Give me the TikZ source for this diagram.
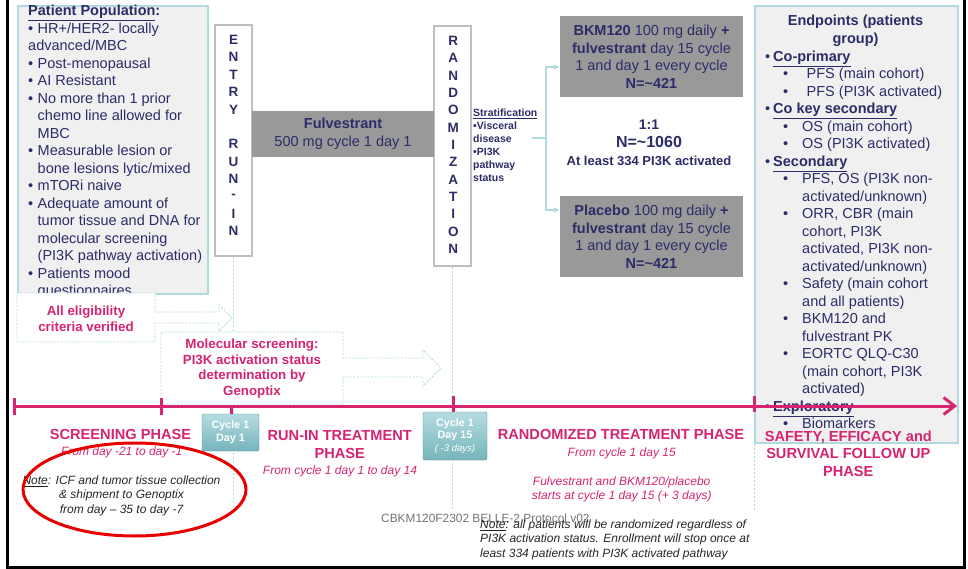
\documentclass[tikz,border=0pt]{standalone}
\usepackage{fontspec}
\setmainfont{Liberation Sans}
\usetikzlibrary{arrows.meta}

\definecolor{navy}{RGB}{44,44,104}
\definecolor{phase}{RGB}{214,36,112}
\definecolor{paleteal}{RGB}{176,218,222}
\definecolor{panelgray}{RGB}{240,240,240}
\definecolor{armgray}{RGB}{153,153,153}
\definecolor{btntop}{RGB}{180,220,224}
\definecolor{btnbot}{RGB}{118,180,188}
\definecolor{ringred}{RGB}{232,0,0}

\newcommand\pbul{\makebox[9.5pt][l]{\textbullet}}
\newcommand\pind{\hspace*{9.5pt}}
\newcommand\ebul{\makebox[8pt][l]{\textbullet}}
\newcommand\esub[1][19pt]{\hspace*{18pt}\makebox[#1][l]{\textbullet}}
\newcommand\eind{\hspace*{37pt}}

\tikzset{
  panel/.style={draw=paleteal, line width=2pt, fill=panelgray},
  upright/.style={draw=black!25, line width=1.2pt, fill=white, minimum width=37pt},
  letter/.style={inner sep=0pt, text=navy, font=\fontsize{13.5}{16}\selectfont\bfseries},
  arm/.style={fill=armgray, text=navy, align=center, font=\fontsize{14.5}{17.5}\selectfont},
  listtext/.style={anchor=north west, inner sep=0pt, align=left, text=navy, font=\fontsize{14.5}{17.5}\selectfont},
  link/.style={draw=paleteal, line width=1.8pt},
  guide/.style={draw=paleteal, line width=0.8pt, dash pattern=on 2pt off 2pt},
  calloutbox/.style={draw=paleteal, line width=0.8pt, dash pattern=on 2pt off 1.5pt, fill=white},
  callouttext/.style={inner sep=0pt, align=center, text=phase, font=\fontsize{13.3}{15.8}\selectfont\bfseries},
  timeline/.style={draw=phase, line width=3pt},
  cyclebtn/.style={rounded corners=1.5pt, draw=btnbot!80!black, line width=0.4pt, top color=btntop, bottom color=btnbot, text=white, align=center, inner sep=0pt, font=\fontsize{10.8}{12.7}\selectfont\bfseries},
  phasetitle/.style={anchor=north, inner sep=0pt, align=center, text=phase, font=\fontsize{14.6}{17.5}\selectfont\bfseries},
  phasenote/.style={anchor=north, inner sep=0pt, align=center, text=phase, font=\fontsize{12}{14}\selectfont\itshape},
  remark/.style={inner sep=0pt, text=black!85, font=\fontsize{12}{14.4}\selectfont\itshape},
}

\begin{document}
\begin{tikzpicture}[x=1pt, y=-1pt]
    \useasboundingbox (0,0) rectangle (968,569);

    % Frame
    \draw[line width=3pt] (7,0) -- (7,567) -- (964,567) -- (964,0);

    % Patient population
    \node[panel, anchor=north west, minimum width=190pt, minimum height=288pt] (pop) at (17,5) {};
    \begin{scope}
      \clip (pop.north west) rectangle ([yshift=1pt]pop.south east);
      \node[listtext] (popText) at (28,5) {\underline{\textbf{Patient Population}}\textbf{:}\\
        \pbul HR+/HER2- locally\\
        advanced/MBC\\
        \pbul Post-menopausal\\
        \pbul AI Resistant\\
        \pbul No more than 1 prior\\
        \pind chemo line allowed for\\
        \pind MBC\\
        \pbul Measurable lesion or\\
        \pind bone lesions lytic/mixed\\
        \pbul mTORi naive\\
        \pbul Adequate amount of\\
        \pind tumor tissue and DNA for\\
        \pind molecular screening\\
        \pind (PI3K pathway activation)\\
        \pbul Patients mood\\
        \pind questionnaires};
    \end{scope}

    % Entry and randomization
    \node[upright, minimum height=231pt] (entry) at (233.5,140.5) {};
    \node[upright, minimum height=240pt] (rand) at (452.5,146) {};
    \foreach \l [count=\i] in {E,N,T,R,Y,{},R,U,N,-,I,N}
      \node[letter] (entry\i) at (233.5, 22.6+17.36*\i) {\l};
    \foreach \l [count=\i] in {R,A,N,D,O,M,I,Z,A,T,I,O,N}
      \node[letter] (rand\i) at (453.3, 23.67+17.33*\i) {\l};

    % Guides
    \draw[guide] (entry.south) -- ++(0,249);
    \draw[guide] (rand.south) -- ++(0,244);

    % Treatment arms
    \node[arm, minimum width=182pt, minimum height=46pt] (fulv) at (343,134) {\textbf{Fulvestrant}\\500 mg cycle 1 day 1};
    \node[arm, minimum width=183pt, minimum height=81pt] (bkm) at (651.5,56.5) {\textbf{BKM120} 100 mg daily \textbf{+}\\\textbf{fulvestrant} day 15 cycle\\1 and day 1 every cycle\\\textbf{N=\textasciitilde421}};
    \node[arm, minimum width=183pt, minimum height=81pt] (plac) at (651.5,236.5) {\textbf{Placebo} 100 mg daily \textbf{+}\\\textbf{fulvestrant} day 15 cycle\\1 and day 1 every cycle\\\textbf{N=\textasciitilde421}};
    \node[anchor=north, inner sep=0pt, align=center, text=navy, font=\fontsize{14}{18}\selectfont\bfseries] (ratio) at (649,119.8)
      {1:1\\{\fontsize{16}{18}\selectfont N=\textasciitilde1060}\\{\fontsize{13}{18}\selectfont At least 334 PI3K activated}};

    % Stratification
    \node[anchor=north west, inner sep=0pt, align=left, text=navy, font=\fontsize{10.5}{12.9}\selectfont\bfseries] (strat) at (473,108.8)
      {\underline{Stratification}\\\textbullet Visceral\\disease\\\textbullet PI3K\\pathway\\status};
    \coordinate (stem) at (532,138);
    \coordinate (split) at (546,138);
    \draw[link] (stem) -- (split);
    \draw[link, -{Latex[length=6pt,width=6pt]}] (split) |- ([yshift=-10.5pt]bkm.west);
    \draw[link, -{Latex[length=6pt,width=6pt]}] (split) |- ([yshift=26.5pt]plac.west);

    % Endpoints
    \node[panel, anchor=north west, minimum width=203pt, minimum height=437pt] (endp) at (754,5) {};
    \draw[guide] (endp.south west) -- ++(0,68);
    \node[anchor=north, inner sep=0pt, align=center, text=navy, font=\fontsize{14.5}{18}\selectfont\bfseries] (endpTitle) at (855.5,14.6) {Endpoints (patients\\group)};
    \node[listtext] (endpList) at (765,50.6) {\ebul\underline{\textbf{Co-primary}}\\
      \esub[23.5pt]PFS (main cohort)\\
      \esub[23.5pt]PFS (PI3K activated)\\
      \ebul\underline{\textbf{Co key secondary}}\\
      \esub OS (main cohort)\\
      \esub OS (PI3K activated)\\
      \ebul\underline{\textbf{Secondary}}\\
      \esub PFS, OS (PI3K non-\\
      \eind activated/unknown)\\
      \esub ORR, CBR (main\\
      \eind cohort, PI3K\\
      \eind activated, PI3K non-\\
      \eind activated/unknown)\\
      \esub Safety (main cohort\\
      \eind and all patients)\\
      \esub BKM120 and\\
      \eind fulvestrant PK\\
      \esub EORTC QLQ-C30\\
      \eind (main cohort, PI3K\\
      \eind activated)\\
      \ebul\underline{\textbf{Exploratory}}\\
      \esub Biomarkers};

    % Screening callouts
    \draw[calloutbox] (17,293) -- (155,293) -- (155,312) -- (219,312) -- (219,305) -- (232,318)
      -- (219,331) -- (219,323) -- (155,323) -- (155,342) -- (17,342) -- cycle;
    \draw[calloutbox] (161,332) -- (343,332) -- (343,358) -- (423,358) -- (423,350) -- (441,368)
      -- (423,386) -- (423,377) -- (343,377) -- (343,404) -- (161,404) -- cycle;
    \node[callouttext] (elig) at (86,318.5) {All eligibility\\criteria verified};
    \node[callouttext] (molec) at (252,368.5) {Molecular screening:\\PI3K activation status\\determination by\\Genoptix};

    % Timeline
    \draw[timeline, -{Straight Barb[length=11pt,width=17pt]}] (14,406) -- (957,406);
    \foreach \x in {14,161}
      \draw[timeline] (\x,398) -- (\x,415);
    \foreach \x in {453,754}
      \draw[timeline] (\x,396) -- (\x,412);
    \draw[timeline] (231,406) -- (231,415);

    \node[cyclebtn, minimum width=57pt, minimum height=37pt] (cyc1) at (230.5,432.5) {Cycle 1\\Day 1};
    \node[cyclebtn, minimum width=64pt, minimum height=48pt] (cyc15) at (455,436)
      {Cycle 1\\Day 15\\{\mdseries\itshape\fontsize{9.5}{12}\selectfont ( -3 days)}};

    % Phases
    \node[phasetitle] (scrTitle) at (120.5,429) {SCREENING PHASE};
    \node[phasenote] (scrDays) at (121.7,446.3) {From day -21 to day -1};
    \node[phasetitle] (runinTitle) at (339.7,430.3) {RUN-IN TREATMENT\\PHASE};
    \node[phasenote] (runinDays) at (340,465.6) {From cycle 1 day 1 to day 14};
    \node[phasetitle] (randTitle) at (621,429.6) {RANDOMIZED TREATMENT PHASE};
    \node[phasenote] (randDays) at (621.7,447.6) {From cycle 1 day 15};
    \node[phasenote] (randStart) at (621.7,476.6) {Fulvestrant and BKM120/placebo\\starts at cycle 1 day 15 (+ 3 days)};
    \node[phasetitle] (safeTitle) at (848.3,430.3) {SAFETY, EFFICACY and\\SURVIVAL FOLLOW UP\\PHASE};

    % Notes
    \node[remark, anchor=north, align=center] (note1) at (121.5,475.6)
      {\underline{Note}: ICF and tumor tissue collection\\\& shipment to Genoptix\\from day – 35 to day -7};
    \node[anchor=west, inner sep=0pt, text=black!55, font=\fontsize{11.9}{14}\selectfont] (protocol) at (381,518) {CBKM120F2302 BELLE-2 Protocol v02};
    \node[remark, anchor=north west, align=left] (note2) at (480,519.6)
      {\underline{Note}: all patients will be randomized regardless of\\PI3K activation status. Enrollment will stop once at\\least 334 patients with PI3K activated pathway};
    \draw[ringred, line width=3pt] (134.5,489.5) ellipse [x radius=111.5pt, y radius=46.5pt];
\end{tikzpicture}
\end{document}
